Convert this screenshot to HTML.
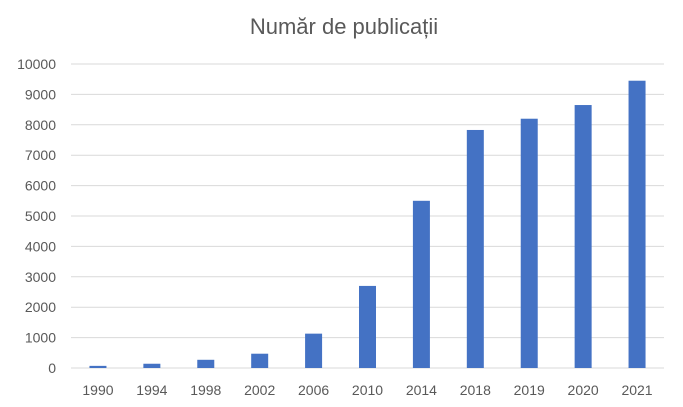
<!DOCTYPE html>
<html><head><meta charset="utf-8"><style>
body{margin:0;background:#fff;}
svg{display:block;font-family:"Liberation Sans",sans-serif;}
</style></head><body>
<svg id="chart" width="683" height="407" viewBox="0 0 683 407">
<rect width="683" height="407" fill="#fff"/>
<text x="344" y="34" text-anchor="middle" font-size="22" fill="#595959">Număr de publicații</text>
<g id="grid"></g><g id="bars"></g><g id="xlabels"></g><g id="ylabels"></g>
</svg>
<script>
const categories=["1990","1994","1998","2002","2006","2010","2014","2018","2019","2020","2021"];
const values=[70,140,270,470,1130,2700,5500,7830,8200,8650,9450];
const yTicks=[0,1000,2000,3000,4000,5000,6000,7000,8000,9000,10000];
const NS="http://www.w3.org/2000/svg";
const L=71,R=664,T=64,B=368,yMax=10000;
const band=(R-L)/categories.length;
const y=v=>B-(v/yMax)*(B-T);
const xc=i=>L+band*(i+0.5);
function mk(t,a,p){const e=document.createElementNS(NS,t);for(const k in a)e.setAttribute(k,a[k]);p.appendChild(e);return e;}
const g=document.getElementById('grid'),bs=document.getElementById('bars'),xl=document.getElementById('xlabels'),yl=document.getElementById('ylabels');
yTicks.forEach(v=>{
 const ln=mk('line',{x1:L,x2:R,y1:y(v),y2:y(v),stroke:'#d9d9d9','stroke-width':1},g);
 
 
 const t=mk('text',{x:56,y:y(v)+5,'text-anchor':'end','font-size':14,fill:'#595959'},yl);
 t.textContent=v;
 
 
});
categories.forEach((c,i)=>{
 const r=mk('rect',{x:xc(i)-8.5,width:17,y:y(values[i]),height:B-y(values[i]),fill:'#4472c4'},bs);
 
 
 const t=mk('text',{x:xc(i),y:395,'text-anchor':'middle','font-size':14,fill:'#595959'},xl);
 t.textContent=c;
 
 
});
</script>
</body></html>
